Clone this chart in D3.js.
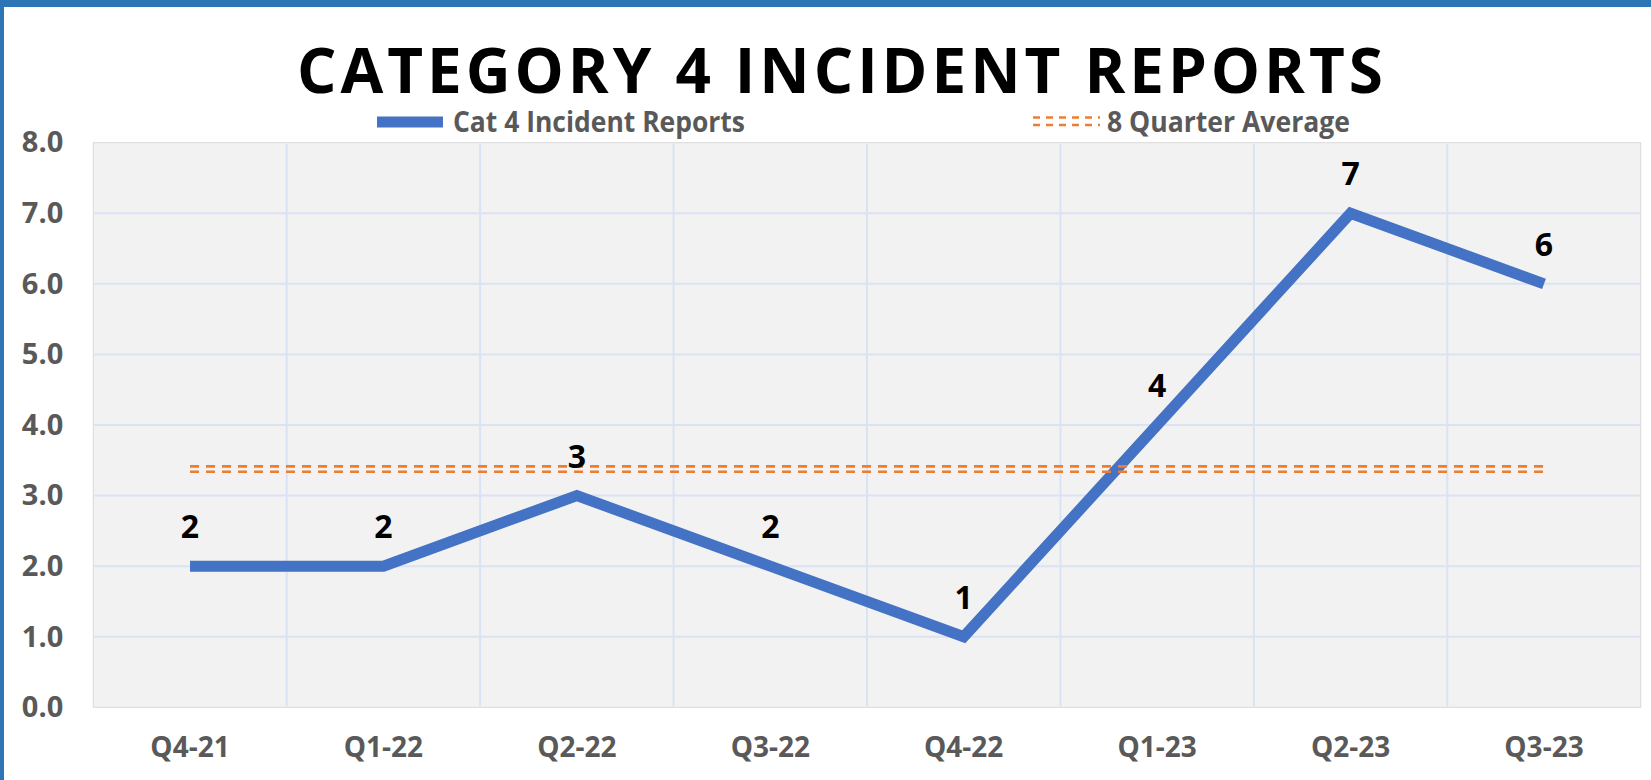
<!DOCTYPE html>
<html>
<head>
<meta charset="utf-8">
<script src="https://cdn.jsdelivr.net/npm/d3@7"></script>
<style>
  html, body { margin: 0; padding: 0; background: #fff; }
  svg { display: block; font-family: 'Open Sans', sans-serif; }
</style>
</head>
<body>
<div id="app"></div>
<script>
// chart values
const quarters = ['Q4-21', 'Q1-22', 'Q2-22', 'Q3-22', 'Q4-22', 'Q1-23', 'Q2-23', 'Q3-23'];
const incidents = [2, 2, 3, 2, 1, 4, 7, 6];
const quarterAverage = [3.375, 3.375, 3.375, 3.375, 3.375, 3.375, 3.375, 3.375];
const yTicks = [0, 1, 2, 3, 4, 5, 6, 7, 8];
const seriesNames = ['Cat 4 Incident Reports', '8 Quarter Average'];

const width = 1651;
const height = 780;
const plot = {left: 93.3, right: 1640.7, top: 142.7, bottom: 707.3};

const svg = d3.select('#app')
  .append('svg')
  .attr('width', width)
  .attr('height', height);

// frame (only top and left edges show)
svg.append('rect')
  .attr('x', 0).attr('y', 0)
  .attr('width', width).attr('height', 7)
  .style('fill', '#2E75B6');
svg.append('rect')
  .attr('x', 0).attr('y', 0)
  .attr('width', 4).attr('height', height)
  .style('fill', '#2E75B6');

const x = d3.scaleBand()
  .domain(quarters)
  .range([plot.left, plot.right])
  .padding(0);

const y = d3.scaleLinear()
  .domain([0, 8])
  .range([plot.bottom, plot.top]);

const cx = d => x(d) + x.bandwidth() / 2;

// plot area background
svg.append('rect')
  .attr('x', plot.left)
  .attr('y', plot.top)
  .attr('width', plot.right - plot.left)
  .attr('height', plot.bottom - plot.top)
  .style('fill', '#F2F2F2')
  .style('stroke', '#D9D9D9')
  .style('stroke-width', 1);

// gridlines
const grid = svg.append('g').attr('id', 'grid');
grid.selectAll('line.h')
  .data(yTicks.slice(1, -1))
  .join('line')
  .attr('class', 'h')
  .attr('x1', plot.left + 1)
  .attr('x2', plot.right - 1)
  .attr('y1', d => y(d))
  .attr('y2', d => y(d))
  .style('stroke', '#DAE3F3')
  .style('stroke-width', 2);
grid.selectAll('line.v')
  .data(quarters.slice(1))
  .join('line')
  .attr('class', 'v')
  .attr('x1', d => x(d))
  .attr('x2', d => x(d))
  .attr('y1', plot.top + 1)
  .attr('y2', plot.bottom - 1)
  .style('stroke', '#DAE3F3')
  .style('stroke-width', 2);

// y axis
const yAxis = svg.append('g')
  .attr('transform', `translate(${plot.left},0)`)
  .call(d3.axisLeft(y).tickValues(yTicks).tickSize(0).tickPadding(30).tickFormat(d3.format('.1f')));
yAxis.select('.domain').remove();
yAxis.selectAll('text')
  .style('font-family', "'Open Sans', sans-serif")
  .style('font-size', '29px')
  .style('font-weight', 'bold')
  .style('fill', '#595959');

// x axis
const xAxis = svg.append('g')
  .attr('transform', `translate(0,${plot.bottom})`)
  .call(d3.axisBottom(x).tickSize(0));
xAxis.select('.domain').remove();
xAxis.selectAll('text')
  .attr('y', 50)
  .attr('dy', null)
  .style('font-family', "'Open Sans', sans-serif")
  .style('font-size', '28px')
  .style('font-weight', 'bold')
  .style('fill', '#595959');

// incidents line
const line = d3.line()
  .x((d, i) => cx(quarters[i]))
  .y(d => y(d));

svg.append('path')
  .datum(incidents)
  .attr('d', line)
  .style('fill', 'none')
  .style('stroke', '#4472C4')
  .style('stroke-width', 11)
  .style('stroke-linejoin', 'miter')
  .style('stroke-linecap', 'butt');

// 8 quarter average (double dashed line)
[-2.7, 2.7].forEach(off => {
  svg.append('path')
    .datum(quarterAverage)
    .attr('d', line)
    .attr('transform', `translate(0,${off})`)
    .style('fill', 'none')
    .style('stroke', '#ED7D31')
    .style('stroke-width', 2.6)
    .style('stroke-dasharray', '9 7');
});

// data labels
svg.append('g')
  .selectAll('text')
  .data(incidents)
  .join('text')
  .attr('x', (d, i) => cx(quarters[i]))
  .attr('y', d => y(d) - 28)
  .attr('text-anchor', 'middle')
  .style('font-size', '32px')
  .style('font-weight', 'bold')
  .style('fill', '#000')
  .text(d => d);

// title
svg.append('text')
  .attr('x', 840)
  .attr('y', 93.3)
  .attr('text-anchor', 'middle')
  .attr('textLength', 1086)
  .attr('lengthAdjust', 'spacing')
  .style('font-size', '62px')
  .style('font-weight', 'bold')
  .style('fill', '#000')
  .text('CATEGORY 4 INCIDENT REPORTS');

// legend
const legend = svg.append('g').attr('id', 'legend');
legend.append('rect')
  .attr('x', 377)
  .attr('y', 116.5)
  .attr('width', 66)
  .attr('height', 11)
  .style('fill', '#4472C4');
legend.append('text')
  .attr('x', 453)
  .attr('y', 131.5)
  .attr('textLength', 292)
  .attr('lengthAdjust', 'spacingAndGlyphs')
  .style('font-size', '29px')
  .style('font-weight', 'bold')
  .style('fill', '#595959')
  .text(seriesNames[0]);

[117.5, 125].forEach(ly => {
  legend.append('line')
    .attr('x1', 1033)
    .attr('x2', 1100)
    .attr('y1', ly)
    .attr('y2', ly)
    .style('stroke', '#ED7D31')
    .style('stroke-width', 2.6)
    .style('stroke-dasharray', '7 6');
});
legend.append('text')
  .attr('x', 1107)
  .attr('y', 131.5)
  .attr('textLength', 243)
  .attr('lengthAdjust', 'spacingAndGlyphs')
  .style('font-size', '29px')
  .style('font-weight', 'bold')
  .style('fill', '#595959')
  .text(seriesNames[1]);
</script>
</body>
</html>
